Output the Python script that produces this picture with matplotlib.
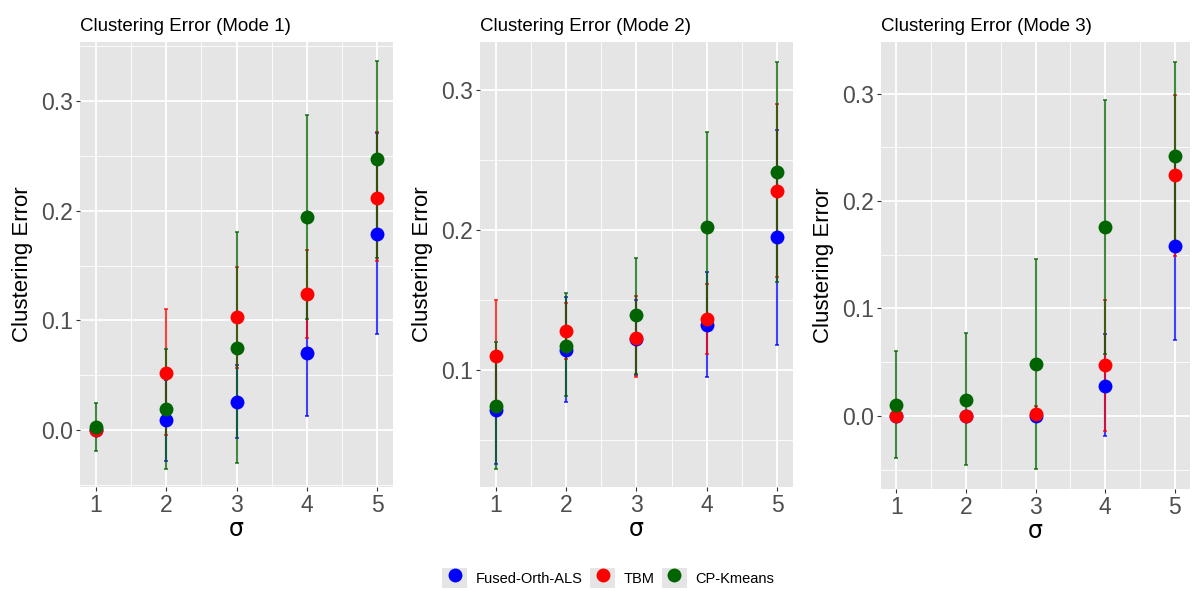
import matplotlib.pyplot as plt
import numpy as np
from matplotlib.lines import Line2D
from matplotlib.patches import Patch
from matplotlib.legend_handler import HandlerTuple
from matplotlib.ticker import MultipleLocator

plt.rcParams['font.family'] = ['Liberation Sans', 'DejaVu Sans']

# =============================================================================
# DATA
# =============================================================================

sigma = [1, 2, 3, 4, 5]
methods = ['Fused-Orth-ALS', 'TBM', 'CP-Kmeans']
colors = ['#0000FF', '#FF0000', '#006400']
titles = ['Clustering Error (Mode 1)', 'Clustering Error (Mode 2)', 'Clustering Error (Mode 3)']

# Mode 1
m1_als = [0.000, 0.009, 0.026, 0.070, 0.179]
m1_als_lo = [0.000, -0.028, -0.007, 0.013, 0.088]
m1_als_hi = [0.000, 0.046, 0.059, 0.127, 0.271]
m1_tbm = [0.000, 0.052, 0.103, 0.124, 0.212]
m1_tbm_lo = [0.000, -0.005, 0.057, 0.084, 0.154]
m1_tbm_hi = [0.000, 0.110, 0.149, 0.164, 0.272]
m1_cpk = [0.003, 0.019, 0.075, 0.194, 0.247]
m1_cpk_lo = [-0.019, -0.036, -0.030, 0.101, 0.157]
m1_cpk_hi = [0.025, 0.074, 0.181, 0.287, 0.337]

# Mode 2
m2_als = [0.071, 0.114, 0.122, 0.132, 0.195]
m2_als_lo = [0.033, 0.077, 0.096, 0.095, 0.118]
m2_als_hi = [0.109, 0.152, 0.150, 0.170, 0.271]
m2_tbm = [0.110, 0.128, 0.123, 0.136, 0.228]
m2_tbm_lo = [0.070, 0.108, 0.095, 0.111, 0.166]
m2_tbm_hi = [0.150, 0.148, 0.153, 0.161, 0.290]
m2_cpk = [0.074, 0.117, 0.139, 0.202, 0.241]
m2_cpk_lo = [0.029, 0.081, 0.097, 0.134, 0.163]
m2_cpk_hi = [0.120, 0.155, 0.180, 0.270, 0.320]

# Mode 3
m3_als = [0.000, 0.000, 0.000, 0.028, 0.158]
m3_als_lo = [0.000, 0.000, 0.000, -0.019, 0.071]
m3_als_hi = [0.000, 0.000, 0.000, 0.076, 0.246]
m3_tbm = [0.000, 0.000, 0.002, 0.047, 0.224]
m3_tbm_lo = [0.000, 0.000, -0.005, -0.014, 0.149]
m3_tbm_hi = [0.000, 0.000, 0.009, 0.108, 0.299]
m3_cpk = [0.010, 0.015, 0.048, 0.176, 0.242]
m3_cpk_lo = [-0.039, -0.046, -0.049, 0.058, 0.155]
m3_cpk_hi = [0.060, 0.077, 0.146, 0.294, 0.329]

modes = [
    [(m1_als, m1_als_lo, m1_als_hi), (m1_tbm, m1_tbm_lo, m1_tbm_hi), (m1_cpk, m1_cpk_lo, m1_cpk_hi)],
    [(m2_als, m2_als_lo, m2_als_hi), (m2_tbm, m2_tbm_lo, m2_tbm_hi), (m2_cpk, m2_cpk_lo, m2_cpk_hi)],
    [(m3_als, m3_als_lo, m3_als_hi), (m3_tbm, m3_tbm_lo, m3_tbm_hi), (m3_cpk, m3_cpk_lo, m3_cpk_hi)],
]

# =============================================================================
# LAYOUT
# =============================================================================

W, H = 1193, 591
panel_px = [(80, 393, 42, 487), (480, 793, 42, 487), (881, 1190, 42, 489)]
ylims = [(-0.052, 0.354), (0.0164, 0.334), (-0.068, 0.348)]

BG = '#E5E5E5'
TICK_GREY = '#4D4D4D'

fig = plt.figure(figsize=(W / 100, H / 100), dpi=100)

for k, (l, r, t, b) in enumerate(panel_px):
    ax = fig.add_axes([l / W, 1 - b / H, (r - l) / W, (b - t) / H])
    ax.set_facecolor(BG)
    for s in ax.spines.values():
        s.set_visible(False)

    for (vals, lo, hi), c in zip(modes[k], colors):
        v = np.array(vals)
        err = np.vstack([v - np.array(lo), np.array(hi) - v])
        ax.errorbar(sigma, v, yerr=err, fmt='none', ecolor=c, elinewidth=1.5,
                    capsize=1.5, capthick=1.3, alpha=0.75, zorder=3)
    for (vals, lo, hi), c in zip(modes[k], colors):
        ax.plot(sigma, vals, 'o', color=c, ms=10, mew=0, zorder=4)

    ax.set_xlim(0.78, 5.22)
    ax.set_ylim(*ylims[k])
    ax.set_xticks(sigma)
    ax.xaxis.set_minor_locator(MultipleLocator(0.5))
    ax.yaxis.set_major_locator(MultipleLocator(0.1))
    ax.yaxis.set_minor_locator(MultipleLocator(0.05))
    ax.yaxis.set_major_formatter(plt.FuncFormatter(lambda y, p: f'{y:.1f}'))
    ax.grid(which='major', color='white', lw=1.3, zorder=0)
    ax.grid(which='minor', color='white', lw=0.6, zorder=0)
    ax.set_axisbelow(True)
    ax.tick_params(which='major', length=3, width=0.8, color='#333333',
                   labelsize=16.5, labelcolor=TICK_GREY, pad=2)
    ax.tick_params(which='minor', length=0)

    ax.set_title(titles[k], loc='left', fontsize=13.5, pad=8)
    ax.set_xlabel('σ', fontsize=17, labelpad=0, family=['DejaVu Sans'])
    ax.set_ylabel('Clustering Error', fontsize=16, labelpad=6)

# legend at the bottom
handles = [(Patch(facecolor=BG, edgecolor='none'),
            Line2D([], [], marker='o', color=c, ls='none', ms=10, mew=0))
           for c in colors]
fig.legend(handles, methods, loc='center', bbox_to_anchor=(0.51, 1 - 578 / H),
           ncol=3, frameon=False, fontsize=10.5,
           handler_map={tuple: HandlerTuple(ndivide=1)},
           handlelength=1.7, handleheight=1.7, handletextpad=0.6, columnspacing=0.5)

fig.savefig('out.png', dpi=100)
